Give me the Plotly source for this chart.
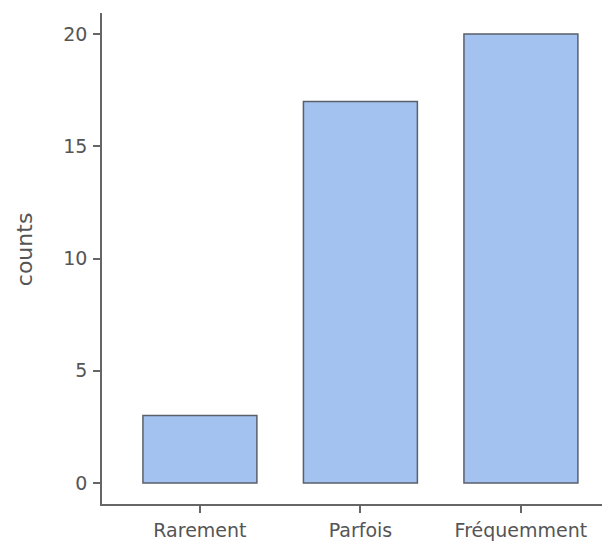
import plotly.graph_objects as go

categories = ["Rarement", "Parfois", "Fréquemment"]
counts = [3, 17, 20]
y_ticks = [0, 5, 10, 15, 20]

fig = go.Figure(go.Bar(
    x=categories, y=counts, width=0.71,
    marker=dict(color="#a3c2f0", line=dict(color="#5a5f6a", width=1.5)),
))

axis_font = dict(family="DejaVu Sans", size=19, color="#555555")
fig.update_layout(
    width=602, height=536,
    margin=dict(l=94, r=0, t=5, b=40),
    plot_bgcolor="white", paper_bgcolor="white",
    showlegend=False,
    xaxis=dict(range=[-0.61, 2.555], showline=True, linecolor="#666666", linewidth=1.5,
               ticks="outside", ticklen=7, tickcolor="#666666", tickwidth=1.5,
               showgrid=False, tickfont=axis_font, zeroline=False, ticklabelstandoff=1),
    yaxis=dict(range=[-0.94, 20.94], showline=True, linecolor="#666666", linewidth=1.5,
               ticks="outside", ticklen=7, tickcolor="#666666", tickwidth=1.5,
               tickvals=y_ticks, showgrid=False, zeroline=False, tickfont=axis_font,
               ticklabelstandoff=2),
    annotations=[dict(text="counts", textangle=-90, xref="paper", yref="paper",
                      x=-0.1535, y=0.519, xanchor="center", yanchor="middle",
                      showarrow=False,
                      font=dict(family="DejaVu Sans", size=22, color="#555555"))],
)
fig.write_html("out.html")
